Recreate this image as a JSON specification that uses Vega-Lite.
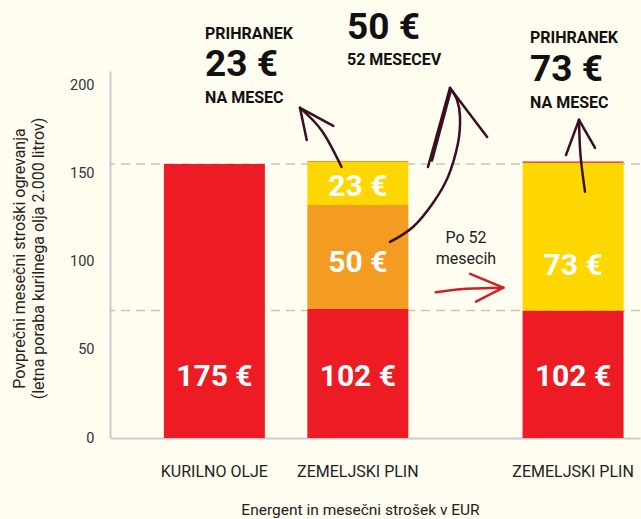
{
  "$schema": "https://vega.github.io/schema/vega-lite/v6.json",
  "width": 530,
  "height": 367,
  "autosize": {"type": "none"},
  "padding": {"left": 110, "top": 71, "right": 1, "bottom": 81},
  "background": "#fffdf0",
  "config": {"view": {"stroke": null}, "font": "Roboto", "text": {"font": "Roboto"}, "axis": {"titleLineHeight": 19}},
  "datasets": {
    "refs": [{"v": 155.3}, {"v": 72.3}],
    "bars": [
      {"cat": "k", "part": "strošek", "n": 1, "v": 155.3},
      {"cat": "z1", "part": "strošek", "n": 1, "v": 73.1},
      {"cat": "z1", "part": "obrok", "n": 2, "v": 59.0},
      {"cat": "z1", "part": "prihranek", "n": 3, "v": 24.3},
      {"cat": "z1", "part": "obrok", "n": 4, "v": 0.6},
      {"cat": "z2", "part": "strošek", "n": 1, "v": 72.3},
      {"cat": "z2", "part": "prihranek", "n": 2, "v": 83.7},
      {"cat": "z2", "part": "strošek", "n": 3, "v": 0.7}
    ],
    "labels": [
      {"cat": "k", "t": "175 €", "v": 34.6},
      {"cat": "z1", "t": "102 €", "v": 34.6},
      {"cat": "z1", "t": "50 €", "v": 99.2},
      {"cat": "z1", "t": "23 €", "v": 142.5},
      {"cat": "z2", "t": "102 €", "v": 34.6},
      {"cat": "z2", "t": "73 €", "v": 97.5}
    ],
    "notes": [
      {"t": "PRIHRANEK", "kind": "caption", "s": -0.131, "v": 229.0},
      {"t": "23 €", "kind": "amount", "s": -0.131, "v": 211.5},
      {"t": "NA MESEC", "kind": "caption", "s": -0.131, "v": 192.7},
      {"t": "50 €", "kind": "amount", "s": 1.848, "v": 232.4},
      {"t": "52 MESECEV", "kind": "caption", "s": 1.848, "v": 214.3},
      {"t": "PRIHRANEK", "kind": "caption", "s": 4.399, "v": 226.8},
      {"t": "73 €", "kind": "amount", "s": 4.399, "v": 208.6},
      {"t": "NA MESEC", "kind": "caption", "s": 4.399, "v": 189.9}
    ],
    "remark": [
      {"t": "Po 52", "s": 3.507, "v": 113.4},
      {"t": "mesecih", "s": 3.507, "v": 101.5}
    ],
    "arrows": [
      {"arrow": "a23", "seg": "a23s", "o": 1, "s": 1.772, "v": 153.6},
      {"arrow": "a23", "seg": "a23s", "o": 2, "s": 1.500, "v": 174.0},
      {"arrow": "a23", "seg": "a23s", "o": 3, "s": 1.193, "v": 187.1},
      {"arrow": "a23", "seg": "a23h1", "o": 1, "s": 1.193, "v": 187.1},
      {"arrow": "a23", "seg": "a23h1", "o": 2, "s": 1.287, "v": 168.9},
      {"arrow": "a23", "seg": "a23h2", "o": 1, "s": 1.193, "v": 187.1},
      {"arrow": "a23", "seg": "a23h2", "o": 2, "s": 1.657, "v": 176.9},
      {"arrow": "a50", "seg": "a50s", "o": 1, "s": 2.448, "v": 111.1},
      {"arrow": "a50", "seg": "a50s", "o": 2, "s": 2.768, "v": 119.6},
      {"arrow": "a50", "seg": "a50s", "o": 3, "s": 3.047, "v": 133.2},
      {"arrow": "a50", "seg": "a50s", "o": 4, "s": 3.256, "v": 148.0},
      {"arrow": "a50", "seg": "a50s", "o": 5, "s": 3.396, "v": 167.2},
      {"arrow": "a50", "seg": "a50s", "o": 6, "s": 3.424, "v": 182.0},
      {"arrow": "a50", "seg": "a50s", "o": 7, "s": 3.382, "v": 191.6},
      {"arrow": "a50", "seg": "a50s", "o": 8, "s": 3.284, "v": 198.4},
      {"arrow": "a50", "seg": "a50h1", "o": 1, "s": 3.284, "v": 198.4},
      {"arrow": "a50", "seg": "a50h1", "o": 2, "s": 2.977, "v": 153.6},
      {"arrow": "a50", "seg": "a50h1b", "o": 1, "s": 3.298, "v": 197.3},
      {"arrow": "a50", "seg": "a50h1b", "o": 2, "s": 3.033, "v": 157.3},
      {"arrow": "a50", "seg": "a50h2", "o": 1, "s": 3.284, "v": 198.4},
      {"arrow": "a50", "seg": "a50h2", "o": 2, "s": 3.802, "v": 170.6},
      {"arrow": "a73", "seg": "a73s", "o": 1, "s": 5.166, "v": 139.6},
      {"arrow": "a73", "seg": "a73s", "o": 2, "s": 5.103, "v": 160.4},
      {"arrow": "a73", "seg": "a73s", "o": 3, "s": 5.082, "v": 180.3},
      {"arrow": "a73", "seg": "a73h1", "o": 1, "s": 5.082, "v": 180.3},
      {"arrow": "a73", "seg": "a73h1", "o": 2, "s": 4.901, "v": 160.4},
      {"arrow": "a73", "seg": "a73h2", "o": 1, "s": 5.082, "v": 180.3},
      {"arrow": "a73", "seg": "a73h2", "o": 2, "s": 5.306, "v": 164.4},
      {"arrow": "po52", "seg": "p52s", "o": 1, "s": 3.085, "v": 82.6},
      {"arrow": "po52", "seg": "p52s", "o": 2, "s": 3.470, "v": 84.5},
      {"arrow": "po52", "seg": "p52s", "o": 3, "s": 4.027, "v": 85.2},
      {"arrow": "po52", "seg": "p52h1", "o": 1, "s": 3.565, "v": 93.0},
      {"arrow": "po52", "seg": "p52h1", "o": 2, "s": 4.027, "v": 85.2},
      {"arrow": "po52", "seg": "p52h2", "o": 1, "s": 4.027, "v": 85.2},
      {"arrow": "po52", "seg": "p52h2", "o": 2, "s": 3.646, "v": 77.3}
    ]
  },
  "encoding": {
    "y": {
      "field": "v", "type": "quantitative",
      "scale": {"domain": [0, 208], "nice": false, "zero": true},
      "axis": {
        "values": [0, 50, 100, 150, 200],
        "ticks": false, "grid": false,
        "domainColor": "#cccccc", "domainWidth": 2,
        "labelPadding": 16, "labelFontSize": 14.5, "labelColor": "#333333", "labelFont": "Roboto",
        "title": ["Povprečni mesečni stroški ogrevanja", "(letna poraba kurilnega olja 2.000 litrov)"],
        "titleFont": "Roboto", "titleFontSize": 16, "titleFontWeight": "normal", "titleColor": "#222222",
        "titleX": -91, "titleY": 187, "titleBaseline": "middle", "titleLineHeight": 19, "titleAngle": -90
      }
    }
  },
  "layer": [
    {
      "data": {"name": "refs"},
      "mark": {"type": "rule", "strokeDash": [9, 6], "color": "#c4c4c4", "strokeWidth": 1.5},
      "encoding": {}
    },
    {
      "data": {"name": "bars"},
      "mark": {"type": "bar", "width": 101},
      "encoding": {
        "x": {
          "field": "cat", "type": "nominal", "sort": null,
          "scale": {"type": "band", "domain": ["k", "g1", "z1", "g2", "g3", "z2"], "paddingInner": 0, "paddingOuter": 0.694, "align": 0.688, "round": false},
          "axis": {
            "labelExpr": "datum.value == 'k' ? 'KURILNO OLJE' : (datum.value == 'z1' || datum.value == 'z2') ? 'ZEMELJSKI PLIN' : ''",
            "ticks": false, "grid": false, "labelAngle": 0,
            "domainColor": "#cccccc", "domainWidth": 2,
            "labelPadding": 25, "labelFontSize": 16, "labelColor": "#222222", "labelFont": "Roboto",
            "title": "Energent in mesečni strošek v EUR",
            "titleFont": "Roboto", "titleFontSize": 15.5, "titleFontWeight": "normal", "titleColor": "#222222",
            "titleX": 250, "titleY": 76, "titleBaseline": "alphabetic"
          }
        },
        "y": {"field": "v", "type": "quantitative", "stack": "zero"},
        "color": {
          "field": "part", "type": "nominal",
          "scale": {"domain": ["strošek", "obrok", "prihranek"], "range": ["#ed1c24", "#f39c21", "#ffd700"]},
          "legend": null
        },
        "order": {"field": "n", "type": "quantitative"}
      }
    },
    {
      "data": {"name": "labels"},
      "mark": {"type": "text", "color": "#ffffff", "fontWeight": "bold", "fontSize": 30, "font": "Roboto", "baseline": "middle", "align": "center"},
      "encoding": {
        "x": {
          "field": "cat", "type": "nominal", "sort": null,
          "scale": {"type": "band", "domain": ["k", "g1", "z1", "g2", "g3", "z2"], "paddingInner": 0, "paddingOuter": 0.694, "align": 0.688, "round": false},
          "axis": null
        },
        "text": {"field": "t"}
      }
    },
    {
      "data": {"name": "notes"},
      "mark": {"type": "text", "color": "#111111", "fontWeight": "bold", "font": "Roboto", "baseline": "middle", "align": "left"},
      "encoding": {
        "x": {"field": "s", "type": "quantitative", "scale": {"domain": [-1.4553, 5.9326], "nice": false, "zero": false}, "axis": null},
        "size": {"field": "kind", "type": "nominal", "scale": {"domain": ["amount", "caption"], "range": [37, 16]}, "legend": null},
        "text": {"field": "t"}
      }
    },
    {
      "data": {"name": "remark"},
      "mark": {"type": "text", "color": "#222222", "fontSize": 16, "font": "Roboto", "baseline": "middle", "align": "center"},
      "encoding": {
        "x": {"field": "s", "type": "quantitative", "scale": {"domain": [-1.4553, 5.9326], "nice": false, "zero": false}, "axis": null},
        "text": {"field": "t"}
      }
    },
    {
      "data": {"name": "arrows"},
      "transform": [{"filter": "datum.arrow != 'po52'"}],
      "mark": {"type": "line", "color": "#3b0d22", "strokeWidth": 2.5, "interpolate": "cardinal", "strokeCap": "round", "clip": false},
      "encoding": {
        "x": {"field": "s", "type": "quantitative", "scale": {"domain": [-1.4553, 5.9326], "nice": false, "zero": false}, "axis": null},
        "detail": {"field": "seg", "type": "nominal"},
        "order": {"field": "o", "type": "quantitative"}
      }
    },
    {
      "data": {"name": "arrows"},
      "transform": [{"filter": "datum.arrow == 'po52'"}],
      "mark": {"type": "line", "color": "#cf1f2a", "strokeWidth": 2.5, "interpolate": "cardinal", "strokeCap": "round", "clip": false},
      "encoding": {
        "x": {"field": "s", "type": "quantitative", "scale": {"domain": [-1.4553, 5.9326], "nice": false, "zero": false}, "axis": null},
        "detail": {"field": "seg", "type": "nominal"},
        "order": {"field": "o", "type": "quantitative"}
      }
    }
  ],
  "resolve": {"scale": {"x": "independent"}}
}
